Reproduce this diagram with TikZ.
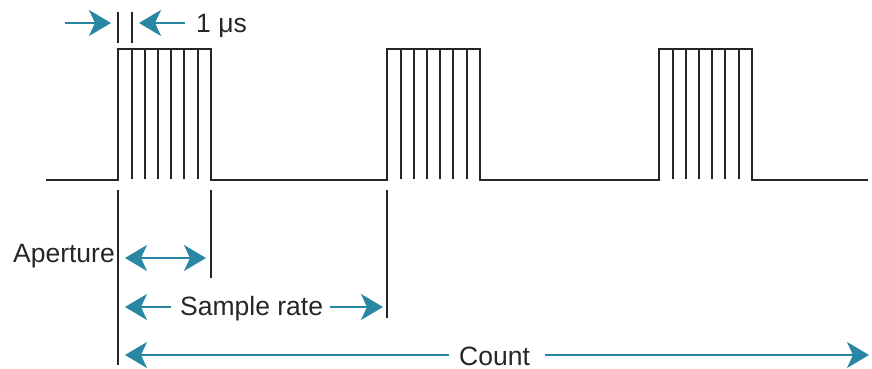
\documentclass[tikz,border=0pt]{standalone}
\usepackage{fontspec}
\setmainfont{Liberation Sans}
\usetikzlibrary{arrows.meta}
\definecolor{PulseTeal}{HTML}{2A87A3}
\definecolor{PulseInk}{HTML}{262626}
\tikzset{
  wave/.style={line width=2pt, draw=PulseInk},
  tick/.style={line width=2pt, draw=PulseInk},
  head/.tip={Stealth[length=22pt, width=26pt, inset=6pt, fill=PulseTeal]},
  dim/.style={line width=2.4pt, draw=PulseTeal, -head},
  dimboth/.style={dim, head-head},
  tag/.style={font=\fontsize{26.5}{31}\selectfont, text=PulseInk, inner sep=0pt}
}

\begin{document}
\begin{tikzpicture}[x=1pt, y=-1pt]
  \useasboundingbox (0,0) rectangle (872,369);
  % pulse train
  \draw[wave] (46,180) -- (118.3,180) |- (210.7,49) -- (210.7,180)
    -- (387.3,180) |- (479.7,49) -- (479.7,180)
    -- (659.3,180) |- (751.7,49) -- (751.7,180) -- (868,180);
  \foreach \p in {118.3, 387.3, 659.3}
    \foreach \k in {1,...,6}
      \draw[wave] (\p+\k*13.2,49) -- (\p+\k*13.2,179);
  % 1 us marker
  \draw[tick] (118.3,12) -- (118.3,43);
  \draw[tick] (131.5,12) -- (131.5,43);
  \node[tag, anchor=base west] (us) at (196,33) {1 μs};
  \coordinate (usA) at (65,23);
  \coordinate (usB) at (111,23);
  \coordinate (usC) at (185,23);
  \coordinate (usD) at (139,23);
  \draw[dim] (usA) -- (usB);
  \draw[dim] (usC) -- (usD);
  % reference lines
  \draw[tick] (118.3,190) -- (118.3,365);
  \draw[tick] (210.7,190) -- (210.7,278);
  \draw[tick] (387.3,190) -- (387.3,318);
  % aperture
  \node[tag, anchor=base east] (aperture) at (115,262) {Aperture};
  \coordinate (apA) at (125,258);
  \coordinate (apB) at (206,258);
  \draw[dimboth] (apA) -- (apB);
  % sample rate
  \node[tag, anchor=base west] (rate) at (180,315) {Sample rate};
  \coordinate (srA) at (171,307);
  \coordinate (srB) at (125,307);
  \coordinate (srC) at (330,307);
  \coordinate (srD) at (383,307);
  \draw[dim] (srA) -- (srB);
  \draw[dim] (srC) -- (srD);
  % count
  \node[tag, anchor=base west] (count) at (459,365) {Count};
  \coordinate (ctA) at (449,355);
  \coordinate (ctB) at (125,355);
  \coordinate (ctC) at (545,355);
  \coordinate (ctD) at (869,355);
  \draw[dim] (ctA) -- (ctB);
  \draw[dim] (ctC) -- (ctD);
\end{tikzpicture}
\end{document}
